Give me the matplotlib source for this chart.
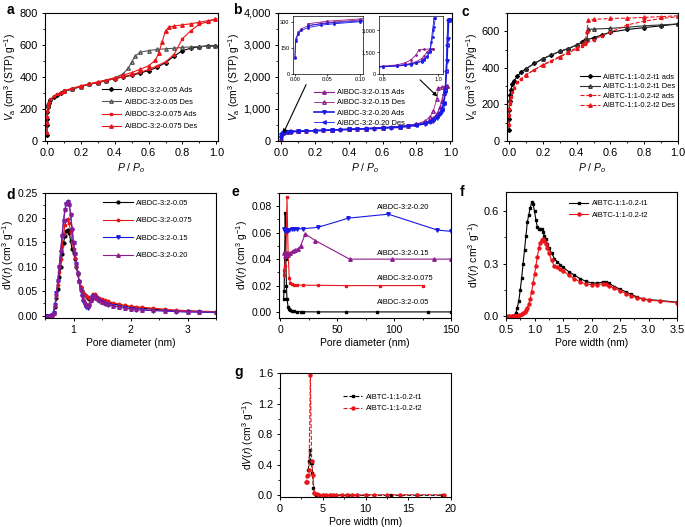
import matplotlib
matplotlib.use("Agg")
import matplotlib.pyplot as plt
from matplotlib.ticker import FuncFormatter, AutoMinorLocator

plt.rcParams['font.family'] = ['Liberation Sans', 'DejaVu Sans']
plt.rcParams['mathtext.fontset'] = 'custom'
plt.rcParams['mathtext.rm'] = 'Liberation Sans'
plt.rcParams['mathtext.it'] = 'Liberation Sans:italic'
plt.rcParams['axes.linewidth'] = 0.8

BLACK, RED, BLUE, PURPLE = 'black', '#e8161b', '#1a1ae6', '#8e1c8e'

# ---- panel a: AlBDC-3:2-0.05 / 0.075 isotherms
a_p_ads = [0.0, 0.0005, 0.001, 0.002, 0.004, 0.007, 0.01, 0.02, 0.04, 0.06, 0.08, 0.1, 0.15, 0.2,
           0.25, 0.3, 0.35, 0.4, 0.45, 0.5, 0.55, 0.6, 0.65, 0.7, 0.75, 0.8, 0.85, 0.9, 0.95, 0.99]
a005_ads = [40, 100, 140, 180, 210, 225, 235, 255, 275, 290, 300, 310, 325, 340,
            355, 365, 378, 390, 400, 410, 425, 440, 460, 490, 530, 565, 580, 590, 595, 595]
a0075_ads = [50, 110, 150, 190, 215, 230, 240, 260, 280, 292, 302, 312, 327, 342,
             356, 366, 378, 390, 402, 415, 430, 447, 470, 495, 540, 640, 690, 730, 745, 760]
a005_des_p = [0.99, 0.95, 0.9, 0.85, 0.8, 0.75, 0.7, 0.65, 0.6, 0.55, 0.52, 0.5, 0.48, 0.45,
              0.4, 0.35, 0.3, 0.25, 0.2, 0.15, 0.1]
a005_des = [592, 592, 590, 588, 585, 580, 576, 572, 565, 555, 530, 495, 455, 420,
            395, 378, 365, 355, 340, 325, 310]
a0075_des_p = [0.99, 0.95, 0.9, 0.85, 0.8, 0.75, 0.72, 0.7, 0.68, 0.66, 0.64, 0.6, 0.55, 0.5,
               0.45, 0.4, 0.3, 0.2, 0.1]
a0075_des = [760, 752, 742, 733, 726, 718, 712, 690, 620, 550, 505, 470, 448, 428,
             412, 395, 370, 345, 315]

# ---- panel b: AlBDC-3:2-0.15 / 0.20 isotherms
b_p_ads = [0.0, 0.001, 0.005, 0.01, 0.02, 0.04, 0.06, 0.1, 0.15, 0.2, 0.25, 0.3, 0.35, 0.4, 0.45,
           0.5, 0.55, 0.6, 0.65, 0.7, 0.75, 0.8, 0.85, 0.88, 0.9, 0.92, 0.94, 0.95, 0.96, 0.97, 0.98]
b015_ads = [100, 200, 240, 262, 278, 292, 300, 312, 320, 330, 340, 350, 360, 370, 380,
            390, 400, 415, 430, 450, 480, 520, 580, 640, 720, 840, 1050, 1250, 1500, 1680, 1720]
b020_p_ads = b_p_ads + [0.985, 0.99]
b020_ads = [90, 190, 232, 252, 268, 282, 290, 302, 310, 320, 330, 340, 350, 360, 370,
            380, 390, 400, 415, 430, 455, 490, 540, 590, 640, 720, 850, 950, 1150, 1500, 2500, 3200, 3780]
b015_des_p = [0.98, 0.97, 0.95, 0.93, 0.92, 0.9, 0.88, 0.85, 0.8, 0.7, 0.6, 0.5, 0.4, 0.3, 0.2, 0.1, 0.05, 0.02]
b015_des = [1720, 1700, 1680, 1650, 1300, 950, 760, 620, 530, 465, 425, 398, 372, 352, 333, 318, 305, 290]
b020_des_p = [0.99, 0.985, 0.98, 0.975, 0.97, 0.96, 0.95, 0.94, 0.92, 0.9, 0.85, 0.8, 0.7,
              0.6, 0.5, 0.4, 0.3, 0.2, 0.1, 0.05, 0.02]
b020_des = [3780, 3780, 3000, 2200, 1600, 1200, 1000, 900, 780, 680, 560, 500, 445,
            410, 385, 362, 342, 322, 306, 294, 280]

# ---- panel c: AlBTC-1:1-0.2-t1 / t2 isotherms
c_p_ads = [0.0, 0.0005, 0.001, 0.003, 0.005, 0.01, 0.02, 0.03, 0.05, 0.07, 0.1, 0.15, 0.2, 0.25,
           0.3, 0.35, 0.4, 0.43, 0.45, 0.5, 0.55, 0.6, 0.7, 0.8, 0.9, 1.0]
ct1_ads = [60, 120, 170, 220, 250, 280, 310, 330, 355, 375, 395, 425, 450, 470,
           490, 505, 525, 540, 550, 565, 580, 595, 610, 620, 630, 640]
ct2_ads = [90, 140, 175, 200, 215, 240, 270, 290, 320, 340, 360, 390, 415, 435,
           460, 480, 505, 520, 530, 555, 575, 595, 635, 655, 670, 680]
c_p_des = [1.0, 0.9, 0.8, 0.7, 0.6, 0.5, 0.47, 0.46, 0.45, 0.4, 0.35, 0.3, 0.2, 0.1]
ct1_des = [640, 635, 630, 622, 616, 612, 610, 560, 545, 525, 505, 490, 450, 395]
ct2_des = [685, 680, 676, 672, 670, 665, 660, 600, 540, 510, 485, 462, 417, 362]

# ---- panel d: PSD AlBDC-3:2 series
d_x = [0.50, 0.55, 0.60, 0.625, 0.65, 0.675, 0.70, 0.725, 0.75, 0.775, 0.80, 0.825, 0.85, 0.875,
       0.90, 0.925, 0.95, 0.975, 1.00, 1.025, 1.05, 1.075, 1.10, 1.125, 1.15, 1.175, 1.20, 1.225,
       1.25, 1.275, 1.30, 1.325, 1.35, 1.375, 1.40, 1.425, 1.45, 1.50, 1.55, 1.60, 1.70, 1.80,
       1.90, 2.00, 2.10, 2.20, 2.40, 2.60, 2.80, 3.00, 3.20, 3.50]
d005 = [0, 0, 0, 0.001, 0.005, 0.018, 0.035, 0.055, 0.078, 0.100, 0.125, 0.148, 0.163, 0.173,
        0.175, 0.168, 0.152, 0.135, 0.128, 0.115, 0.100, 0.085, 0.070, 0.058, 0.050, 0.045, 0.042, 0.039,
        0.036, 0.034, 0.034, 0.036, 0.040, 0.040, 0.037, 0.034, 0.033, 0.031, 0.029, 0.027, 0.024, 0.021,
        0.019, 0.017, 0.016, 0.015, 0.013, 0.011, 0.010, 0.009, 0.008, 0.007]
d0075 = [0, 0, 0, 0.001, 0.006, 0.020, 0.040, 0.062, 0.088, 0.115, 0.142, 0.167, 0.185, 0.195,
         0.197, 0.188, 0.170, 0.150, 0.135, 0.118, 0.100, 0.085, 0.070, 0.058, 0.050, 0.045, 0.042, 0.040,
         0.038, 0.036, 0.036, 0.038, 0.043, 0.043, 0.039, 0.036, 0.035, 0.033, 0.031, 0.029, 0.026, 0.023,
         0.021, 0.019, 0.018, 0.017, 0.015, 0.013, 0.011, 0.010, 0.009, 0.008]
d015 = [0, 0, 0, 0.001, 0.006, 0.022, 0.045, 0.070, 0.100, 0.130, 0.162, 0.192, 0.215, 0.228,
        0.232, 0.226, 0.205, 0.175, 0.148, 0.125, 0.105, 0.085, 0.068, 0.052, 0.040, 0.030, 0.022, 0.017,
        0.015, 0.020, 0.030, 0.038, 0.040, 0.038, 0.035, 0.032, 0.030, 0.027, 0.024, 0.022, 0.019, 0.017,
        0.015, 0.013, 0.012, 0.011, 0.010, 0.009, 0.008, 0.007, 0.007, 0.006]
d020 = [0, 0, 0, 0.001, 0.006, 0.022, 0.046, 0.072, 0.102, 0.133, 0.165, 0.195, 0.218, 0.230,
        0.233, 0.228, 0.208, 0.178, 0.150, 0.127, 0.107, 0.088, 0.070, 0.055, 0.043, 0.034, 0.027, 0.022,
        0.020, 0.024, 0.032, 0.039, 0.042, 0.040, 0.036, 0.033, 0.031, 0.028, 0.025, 0.023, 0.020, 0.018,
        0.016, 0.014, 0.013, 0.012, 0.011, 0.010, 0.009, 0.008, 0.008, 0.007]

# ---- panel e: PSD (mesopores), curves offset by 0.02
e005_x = [3, 3.5, 4, 4.5, 5, 5.5, 6, 7, 8, 9, 10, 12, 15, 18, 20, 33, 58, 85, 130, 150]
e005_y = [0.010, 0.016, 0.045, 0.075, 0.040, 0.020, 0.010, 0.004, 0.002, 0.0015, 0.001, 0.0005,
          0.0003, 0.0002, 0.0002, 0.0001, 0.0001, 0.0001, 0.0001, 0.0001]
e0075_x = [3, 3.5, 4, 5, 5.5, 6, 7, 8, 9, 10, 12, 15, 20, 33, 58, 88, 125]
e0075_y = [0.028, 0.032, 0.035, 0.045, 0.060, 0.087, 0.045, 0.026, 0.022, 0.021, 0.0205, 0.0205,
           0.0203, 0.0202, 0.020, 0.020, 0.020]
e015_x = [3, 4, 5, 6, 7, 9, 11, 13, 16, 18, 22, 31, 61, 98, 135, 150]
e015_y = [0.045, 0.042, 0.044, 0.045, 0.043, 0.045, 0.046, 0.047, 0.048, 0.050, 0.059, 0.054,
          0.040, 0.040, 0.040, 0.040]
e020_x = [3, 4, 5, 6, 7, 8, 10, 12, 15, 20, 33, 60, 95, 138, 150]
e020_y = [0.063, 0.061, 0.062, 0.061, 0.062, 0.062, 0.0625, 0.063, 0.063, 0.063, 0.064, 0.071,
          0.074, 0.062, 0.061]

# ---- panel f: PSD AlBTC-1:1-0.2 t1 / t2
f_x = [0.50, 0.55, 0.60, 0.625, 0.65, 0.675, 0.70, 0.725, 0.75, 0.775, 0.80, 0.825, 0.85, 0.875,
       0.90, 0.925, 0.95, 0.975, 1.00, 1.025, 1.05, 1.075, 1.10, 1.125, 1.15, 1.175, 1.20, 1.225,
       1.25, 1.30, 1.35, 1.40, 1.45, 1.50, 1.60, 1.70, 1.80, 1.90, 2.00, 2.10, 2.20, 2.25, 2.30,
       2.40, 2.50, 2.60, 2.70, 2.80, 2.90, 3.00, 3.20, 3.50]
f_t1 = [0, 0, 0, 0, 0.005, 0.02, 0.05, 0.09, 0.15, 0.22, 0.30, 0.38, 0.46, 0.54,
        0.58, 0.62, 0.65, 0.64, 0.60, 0.55, 0.51, 0.50, 0.50, 0.50, 0.48, 0.46, 0.44, 0.41,
        0.39, 0.36, 0.33, 0.31, 0.295, 0.28, 0.255, 0.235, 0.215, 0.20, 0.19, 0.19, 0.195, 0.195, 0.19,
        0.17, 0.155, 0.14, 0.125, 0.11, 0.10, 0.095, 0.09, 0.08]
f_t2 = [0, 0, 0, 0, 0, 0, 0.002, 0.005, 0.008, 0.012, 0.018, 0.025, 0.035, 0.05,
        0.07, 0.10, 0.14, 0.19, 0.24, 0.29, 0.34, 0.39, 0.42, 0.435, 0.44, 0.43, 0.41, 0.39,
        0.36, 0.32, 0.285, 0.28, 0.27, 0.26, 0.235, 0.215, 0.195, 0.185, 0.18, 0.18, 0.185, 0.185, 0.175,
        0.16, 0.145, 0.13, 0.115, 0.105, 0.098, 0.092, 0.087, 0.078]

# ---- panel g: PSD AlBTC-1:1-0.2 t1 / t2 (0-20 nm)
g_t1_x = [3.3, 3.4, 3.5, 3.6, 3.7, 3.8, 3.9, 4.0, 4.2, 4.5, 5.0, 6.0, 8.0, 10.0, 13.0, 16.0, 19.0]
g_t1_y = [0.33, 0.45, 0.60, 0.42, 0.42, 0.30, 0.10, 0.03, 0.01, 0.005, 0.004, 0.003, 0.003,
          0.003, 0.003, 0.003, 0.003]
g_t2_x = [3.0, 3.1, 3.2, 3.3, 3.4, 3.55, 3.7, 3.85, 4.0, 4.3, 4.6, 5.0, 5.4, 5.8, 6.2, 6.6,
          7.2, 7.8, 8.4, 9.0, 10.0, 11.0, 12.5, 14.0, 16.0, 19.2]
g_t2_y = [0.18, 0.17, 0.25, 0.27, 0.33, 1.58, 0.45, 0.27, 0.03, 0.015, 0.012, 0.01, 0.01, 0.01,
          0.01, 0.01, 0.01, 0.01, 0.01, 0.01, 0.01, 0.01, 0.01, 0.01, 0.01, 0.01]

W, H = 685, 527
fig = plt.figure(figsize=(W / 100, H / 100), dpi=100)


def add_ax(x0, y0, x1, y1):
    # pixel box (top-left origin) -> figure fraction
    return fig.add_axes([x0 / W, 1 - y1 / H, (x1 - x0) / W, (y1 - y0) / H])


def style(ax, fs=7.9):
    ax.tick_params(which='major', direction='out', length=2.5, width=0.7, labelsize=fs, pad=2.5)
    ax.tick_params(which='minor', direction='out', length=1.5, width=0.6)
    ax.xaxis.set_minor_locator(AutoMinorLocator(2))
    ax.yaxis.set_minor_locator(AutoMinorLocator(2))


comma = FuncFormatter(lambda v, p: f'{int(v):,}')
va_label = r'$V_{\rm a}$ (cm$^3$ (STP) g$^{-1}$)'
pp_label = r'$P$ / $P_o$'
dv_label = r'd$V$($r$) (cm$^3$ g$^{-1}$)'
lw = 0.8
leg_kw = dict(frameon=False, fontsize=5.4, handlelength=2.6, handletextpad=0.5, borderaxespad=0.0)

# a
ax = add_ax(45, 13, 218, 141)
ax.plot(a_p_ads, a005_ads, color=BLACK, marker='D', ms=2, lw=lw, label='AlBDC-3:2-0.05 Ads')
ax.plot(a005_des_p, a005_des, color='#555555', marker='^', ms=2.5, mfc='none', lw=lw, label='AlBDC-3:2-0.05 Des')
ax.plot(a_p_ads, a0075_ads, color=RED, marker='s', ms=2, lw=lw, label='AlBDC-3:2-0.075 Ads')
ax.plot(a0075_des_p, a0075_des, color=RED, marker='^', ms=2.5, lw=lw, label='AlBDC-3:2-0.075 Des')
ax.set_xlim(-0.012, 1.01)
ax.set_ylim(0, 800)
ax.set_xticks([0, 0.2, 0.4, 0.6, 0.8, 1.0])
ax.set_yticks([0, 200, 400, 600, 800])
ax.set_xlabel(pp_label, fontsize=7.5, labelpad=2)
ax.set_ylabel(va_label, fontsize=7.5, labelpad=1)
style(ax)
ax.legend(loc='lower left', bbox_to_anchor=(0.31, 0.06), labelspacing=0.65, **leg_kw)

# b
ax = add_ax(278, 13, 452, 141)
ax.plot(b_p_ads, b015_ads, color=PURPLE, marker='^', ms=2.5, lw=lw, label='AlBDC-3:2-0.15 Ads')
ax.plot(b015_des_p, b015_des, color=PURPLE, marker='^', ms=2.5, mfc='none', lw=0.6, label='AlBDC-3:2-0.15 Des')
ax.plot(b020_p_ads, b020_ads, color=BLUE, marker='v', ms=2.5, lw=1.2, label='AlBDC-3:2-0.20 Ads')
ax.plot(b020_des_p, b020_des, color=BLUE, marker='<', ms=2.5, mfc='none', lw=0.6, label='AlBDC-3:2-0.20 Des')
ax.set_xlim(-0.018, 1.01)
ax.set_ylim(0, 4000)
ax.set_xticks([0, 0.2, 0.4, 0.6, 0.8, 1.0])
ax.set_yticks([0, 1000, 2000, 3000, 4000])
ax.yaxis.set_major_formatter(comma)
ax.set_xlabel(pp_label, fontsize=7.5, labelpad=2)
ax.set_ylabel(va_label, fontsize=7.5, labelpad=1)
style(ax)
ax.legend(loc='upper left', bbox_to_anchor=(0.19, 0.43), labelspacing=0.4, **leg_kw)
ax.annotate('', xy=(0.005, 150), xytext=(0.155, 1840),
            arrowprops=dict(arrowstyle='-|>', color='black', lw=0.8, mutation_scale=6))
ax.annotate('', xy=(0.935, 1330), xytext=(0.81, 1970),
            arrowprops=dict(arrowstyle='-|>', color='black', lw=0.8, mutation_scale=6))

ins = add_ax(293, 16, 363, 74)
for xs, ys, c in [(b_p_ads, b015_ads, PURPLE), (b015_des_p, b015_des, PURPLE),
                  (b020_p_ads, b020_ads, BLUE), (b020_des_p, b020_des, BLUE)]:
    ins.plot(xs, ys, color=c, marker='.', ms=2, lw=0.6)
ins.set_xlim(-0.003, 0.105)
ins.set_ylim(0, 335)
ins.set_xticks([0, 0.05, 0.10])
ins.set_xticklabels(['0.00', '0.05', '0.10'])
ins.set_yticks([0, 150, 300])
ins.tick_params(labelsize=4, length=1.5, width=0.5, pad=1)
for s in ins.spines.values():
    s.set_linewidth(0.5)

ins = add_ax(379, 16, 443, 74)
for xs, ys, c in [(b_p_ads, b015_ads, PURPLE), (b015_des_p, b015_des, PURPLE),
                  (b020_p_ads, b020_ads, BLUE), (b020_des_p, b020_des, BLUE)]:
    ins.plot(xs, ys, color=c, marker='.', ms=2, lw=0.6)
ins.set_xlim(0.785, 1.018)
ins.set_ylim(0, 3950)
ins.set_xticks([0.8, 1.0])
ins.set_yticks([0, 1500, 3000])
ins.yaxis.set_major_formatter(comma)
ins.tick_params(labelsize=4, length=1.5, width=0.5, pad=1)
for s in ins.spines.values():
    s.set_linewidth(0.5)

# c
ax = add_ax(507, 13, 678, 141)
ax.plot(c_p_ads, ct1_ads, color=BLACK, marker='D', ms=2, lw=lw, label='AlBTC-1:1-0.2-t1 ads')
ax.plot(c_p_des, ct1_des, color='#333333', marker='^', ms=2.5, mfc='none', lw=lw, label='AlBTC-1:1-0.2-t1 Des')
ax.plot(c_p_ads, ct2_ads, color=RED, marker='s', ms=2, lw=lw, ls='--', label='AlBTC-1:1-0.2-t2 ads')
ax.plot(c_p_des, ct2_des, color=RED, marker='^', ms=2.5, lw=lw, ls='--', label='AlBTC-1:1-0.2-t2 Des')
ax.set_xlim(-0.012, 1.0)
ax.set_ylim(0, 700)
ax.set_xticks([0, 0.2, 0.4, 0.6, 0.8, 1.0])
ax.set_yticks([0, 200, 400, 600])
ax.set_xlabel(pp_label, fontsize=7.5, labelpad=2)
ax.set_ylabel(r'$V_{\rm a}$ (cm$^3$ (STP)/g$^{-1}$)', fontsize=7.5, labelpad=1)
style(ax)
ax.legend(loc='upper left', bbox_to_anchor=(0.41, 0.55), labelspacing=0.3, **leg_kw)

# d
ax = add_ax(45, 193, 216, 318)
ax.plot(d_x, d005, color=BLACK, marker='o', ms=2, lw=lw, label='AlBDC-3:2-0.05')
ax.plot(d_x, d0075, color=RED, marker='*', ms=2.5, lw=lw, label='AlBDC-3:2-0.075')
ax.plot(d_x, d015, color=BLUE, marker='v', ms=2.5, lw=lw, label='AlBDC-3:2-0.15')
ax.plot(d_x, d020, color=PURPLE, marker='^', ms=2.5, lw=lw, label='AlBDC-3:2-0.20')
ax.set_xlim(0.5, 3.5)
ax.set_ylim(-0.005, 0.25)
ax.set_xticks([1, 2, 3])
ax.set_yticks([0, 0.05, 0.10, 0.15, 0.20, 0.25])
ax.set_yticklabels(['0.00', '0.05', '0.10', '0.15', '0.20', '0.25'])
ax.set_xlabel('Pore diameter (nm)', fontsize=7.5, labelpad=2)
ax.set_ylabel(dv_label, fontsize=7.5, labelpad=1)
style(ax, fs=7.5)
ax.legend(loc='upper left', bbox_to_anchor=(0.32, 0.97), labelspacing=1.35,
          **{**leg_kw, 'handlelength': 4.0})

# e
ax = add_ax(279, 193, 451, 318)
ax.plot(e005_x, e005_y, color=BLACK, marker='s', ms=2, lw=lw)
ax.plot(e0075_x, e0075_y, color=RED, marker='s', ms=2, lw=lw)
ax.plot(e015_x, e015_y, color=PURPLE, marker='^', ms=2.5, lw=lw)
ax.plot(e020_x, e020_y, color=BLUE, marker='v', ms=2.5, lw=lw)
for txt, yy in [('AlBDC-3:2-0.20', 0.079), ('AlBDC-3:2-0.15', 0.0445),
                ('AlBDC-3:2-0.075', 0.025), ('AlBDC-3:2-0.05', 0.0075)]:
    ax.text(85, yy, txt, fontsize=5.4, va='center')
ax.set_xlim(-1, 150)
ax.set_ylim(-0.0045, 0.09)
ax.set_xticks([0, 50, 100, 150])
ax.set_yticks([0, 0.02, 0.04, 0.06, 0.08])
ax.set_yticklabels(['0.00', '0.02', '0.04', '0.06', '0.08'])
ax.set_xlabel('Pore diameter (nm)', fontsize=7.5, labelpad=2)
ax.set_ylabel(dv_label, fontsize=7.5, labelpad=1)
style(ax, fs=7.5)

# f
ax = add_ax(506, 192, 677, 318)
ax.plot(f_x, f_t1, color=BLACK, marker='s', ms=2, lw=lw, label='AlBTC-1:1-0.2-t1')
ax.plot(f_x, f_t2, color=RED, marker='o', ms=2.2, lw=lw, label='AlBTC-1:1-0.2-t2')
ax.set_xlim(0.5, 3.5)
ax.set_ylim(-0.01, 0.71)
ax.set_xticks([0.5, 1.0, 1.5, 2.0, 2.5, 3.0, 3.5])
ax.set_yticks([0, 0.3, 0.6])
ax.set_xlabel('Pore width (nm)', fontsize=7.5, labelpad=2)
ax.set_ylabel(r'd$V$($r$) cm$^3$ g$^{-1}$)', fontsize=7.5, labelpad=1)
style(ax)
ax.legend(loc='upper left', bbox_to_anchor=(0.35, 0.96), labelspacing=0.6, **leg_kw)

# g
ax = add_ax(280, 373, 451, 497)
ax.plot(g_t1_x, g_t1_y, color=BLACK, marker='s', ms=2, lw=lw, ls='--', label='AlBTC-1:1-0.2-t1')
ax.plot(g_t2_x, g_t2_y, color=RED, marker='o', ms=2.2, lw=lw, ls='--', label='AlBTC-1:1-0.2-t2')
ax.set_xlim(0, 20)
ax.set_ylim(-0.02, 1.6)
ax.set_xticks([0, 5, 10, 15, 20])
ax.set_yticks([0, 0.4, 0.8, 1.2, 1.6])
ax.set_xlabel('Pore width (nm)', fontsize=7.5, labelpad=2)
ax.set_ylabel(dv_label, fontsize=7.5, labelpad=1)
style(ax)
ax.legend(loc='upper left', bbox_to_anchor=(0.35, 0.86), labelspacing=0.6, **leg_kw)

# panel letters
for letter, (px, py) in {'a': (7, 3), 'b': (233, 3), 'c': (461, 5), 'd': (6, 188),
                         'e': (232, 185), 'f': (460, 185), 'g': (234, 365)}.items():
    fig.text(px / W, 1 - py / H, letter, fontsize=10, fontweight='bold', va='top', ha='left')

fig.savefig('out.png', dpi=100)
